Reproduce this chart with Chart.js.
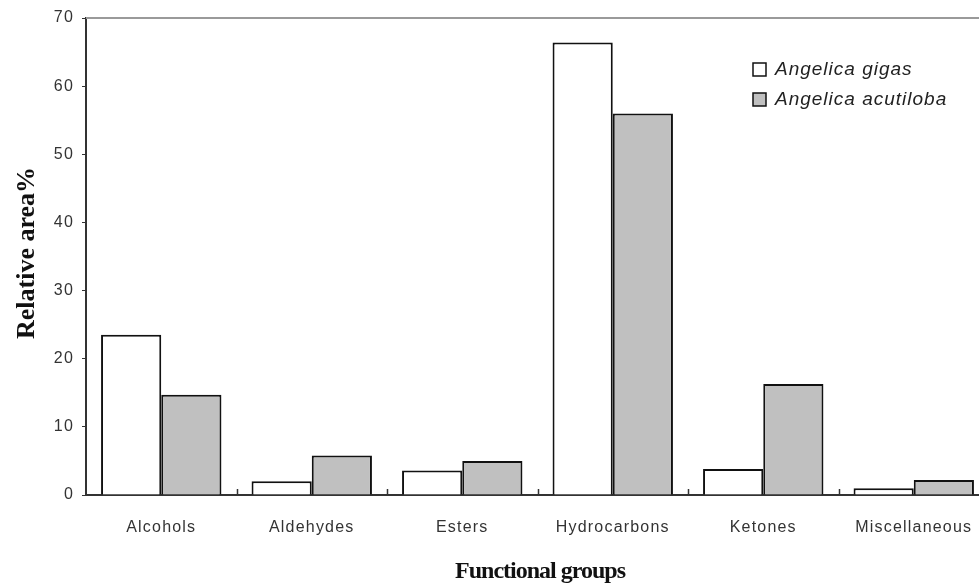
<!DOCTYPE html>
<html>
<head>
<meta charset="utf-8">
<script src="https://cdn.jsdelivr.net/npm/chart.js@4.4.1/dist/chart.umd.min.js"></script>
<style>
    html, body { margin: 0; padding: 0; background: #fff; overflow: hidden; }
    #wrap { width: 989px; height: 584px; }
</style>
</head>
<body>
<div id="wrap"><canvas id="chart" width="989" height="584"></canvas></div>
<script>
const categories = ["Alcohols", "Aldehydes", "Esters", "Hydrocarbons", "Ketones", "Miscellaneous"];
const gigasValues = [23.5, 2.0, 3.6, 66.4, 3.8, 1.0];
const acutilobaValues = [14.7, 5.8, 5.0, 56.0, 16.3, 2.2];
const seriesNames = ["Angelica gigas", "Angelica acutiloba"];
const yTicks = [0, 10, 20, 30, 40, 50, 60, 70];

// top frame line, small inside ticks between groups, titles and legend
const decorPlugin = {
    id: "decor",
    beforeDraw(chart) {
        chart.ctx.letterSpacing = "1.2px";
    },
    afterDraw(chart) {
        const ctx = chart.ctx;
        const area = chart.chartArea;
        const xs = chart.scales.x;
        ctx.save();
        ctx.letterSpacing = "0px";

        ctx.strokeStyle = "#9a9a9a";
        ctx.lineWidth = 2;
        ctx.beginPath();
        ctx.moveTo(area.left, area.top);
        ctx.lineTo(area.right, area.top);
        ctx.stroke();

        ctx.strokeStyle = "#333";
        ctx.lineWidth = 1.5;
        for (let i = 1; i < categories.length; i++) {
            const x = Math.round((xs.getPixelForValue(i - 1) + xs.getPixelForValue(i)) / 2) + 0.5;
            ctx.beginPath();
            ctx.moveTo(x, area.bottom);
            ctx.lineTo(x, area.bottom - 6);
            ctx.stroke();
        }

        ctx.fillStyle = "#111";
        ctx.font = "bold 24px 'Liberation Serif'";
        ctx.textAlign = "center";
        ctx.textBaseline = "middle";
        ctx.letterSpacing = "-1px";
        ctx.fillText("Functional groups", 540, 572);

        ctx.save();
        ctx.translate(27, 253);
        ctx.rotate(-Math.PI / 2);
        ctx.font = "bold 26px 'Liberation Serif'";
        ctx.letterSpacing = "0px";
        ctx.fillText("Relative area%", 0, 0);
        ctx.restore();

        ctx.font = "italic 19px 'Liberation Sans'";
        ctx.textAlign = "left";
        ctx.letterSpacing = "1px";
        chart.data.datasets.forEach((ds, i) => {
            const y = 69 + i * 30;
            ctx.fillStyle = ds.backgroundColor;
            ctx.fillRect(753, y - 6, 13, 13);
            ctx.strokeStyle = "#111";
            ctx.lineWidth = 1.5;
            ctx.strokeRect(753, y - 6, 13, 13);
            ctx.fillStyle = "#222";
            ctx.fillText(ds.label, 775, y + 1);
        });
        ctx.restore();
    }
};

new Chart(document.getElementById("chart"), {
    type: "bar",
    data: {
        labels: categories,
        datasets: [
            {
                label: seriesNames[0],
                data: gigasValues,
                backgroundColor: "#ffffff",
                borderColor: "#111",
                borderWidth: 2
            },
            {
                label: seriesNames[1],
                data: acutilobaValues,
                backgroundColor: "#c0c0c0",
                borderColor: "#111",
                borderWidth: 2
            }
        ]
    },
    options: {
        responsive: false,
        devicePixelRatio: 1,
        animation: false,
        layout: { padding: { top: 18, left: 0, right: 0, bottom: 0 } },
        datasets: {
            bar: { categoryPercentage: 0.8, barPercentage: 1.0 }
        },
        plugins: {
            legend: { display: false },
            tooltip: { enabled: false }
        },
        scales: {
            x: {
                grid: { display: false },
                border: { display: true, color: "#333", width: 2 },
                ticks: {
                    color: "#333",
                    font: { family: "'Liberation Sans'", size: 16 },
                    padding: 15,
                    maxRotation: 0,
                    autoSkip: false
                },
                afterFit: (scale) => { scale.height = 89; }
            },
            y: {
                min: 0,
                max: 70,
                afterBuildTicks: (scale) => {
                    scale.ticks = yTicks.map(v => ({ value: v }));
                },
                grid: {
                    display: true,
                    drawOnChartArea: false,
                    drawTicks: true,
                    tickLength: 4,
                    color: "#333",
                    lineWidth: 1
                },
                border: { display: true, color: "#333", width: 2 },
                ticks: {
                    color: "#333",
                    font: { family: "'Liberation Sans'", size: 16 },
                    padding: 8
                },
                afterFit: (scale) => { scale.width = 86; }
            }
        }
    },
    plugins: [decorPlugin]
});
</script>
</body>
</html>
